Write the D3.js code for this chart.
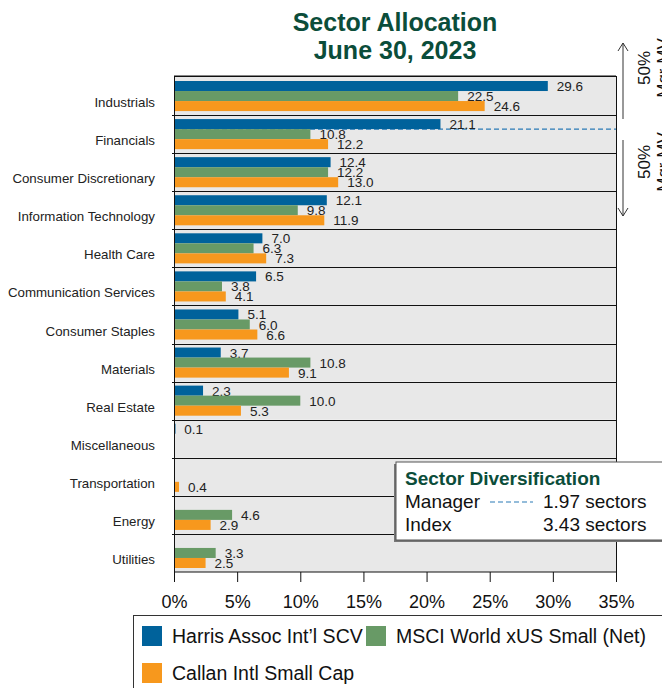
<!DOCTYPE html>
<html><head><meta charset="utf-8">
<script src="https://cdn.jsdelivr.net/npm/d3@7"></script>
<style>body{margin:0;background:#fff;}svg{display:block;font-family:"Liberation Sans",Arial,sans-serif;}</style>
</head><body>
<script>
const categories = ["Industrials","Financials","Consumer Discretionary","Information Technology","Health Care","Communication Services","Consumer Staples","Materials","Real Estate","Miscellaneous","Transportation","Energy","Utilities"];
const seriesNames = ["Harris Assoc Int\u2019l SCV","MSCI World xUS Small (Net)","Callan Intl Small Cap"];
const manager = [29.6,21.1,12.4,12.1,7.0,6.5,5.1,3.7,2.3,0.1,null,null,null];
const index = [22.5,10.8,12.2,9.8,6.3,3.8,6.0,10.8,10.0,null,null,4.6,3.3];
const peer = [24.6,12.2,13.0,11.9,7.3,4.1,6.6,9.1,5.3,null,0.4,2.9,2.5];
const seriesColors = ["#00629b","#689a66","#f7981d"];
const xTicks = [0,5,10,15,20,25,30,35];
const managerSectors = 1.97, indexSectors = 3.43;
const dividerValue = 0.37; // fraction of Financials row where 50% MV split is drawn

const W=662,H=688;
const svg=d3.select("body").append("svg").attr("width",W).attr("height",H);
const x=d3.scaleLinear().domain([0,35]).range([174,616]);
const y=d3.scaleBand().domain(categories).range([77,572]).paddingInner(0);
const bw=y.bandwidth();
const sub=d3.scaleBand().domain(d3.range(3)).range([bw*0.105,bw*0.895]);
const allSeries=[manager,index,peer];

// title
svg.append("text").attr("x",395).attr("y",31).attr("text-anchor","middle").attr("font-weight","bold").attr("font-size",25).attr("fill","#0b4d3a").text("Sector Allocation");
svg.append("text").attr("x",395).attr("y",59).attr("text-anchor","middle").attr("font-weight","bold").attr("font-size",25).attr("fill","#0b4d3a").text("June 30, 2023");

// row backgrounds
svg.append("g").selectAll("rect").data(categories).join("rect")
  .attr("x",x(0)).attr("y",d=>y(d)).attr("width",x(35)-x(0)).attr("height",bw).attr("fill","#e8e8e8");

// divider lines
svg.append("g").selectAll("line").data(categories.slice(1)).join("line")
  .attr("x1",x(0)-2).attr("x2",x(35)).attr("y1",d=>Math.round(y(d))+0.5).attr("y2",d=>Math.round(y(d))+0.5)
  .attr("stroke","#111").attr("stroke-width",1);

// dashed manager line
const dashY=y("Financials")+bw*dividerValue;
svg.append("line").attr("x1",x(0)).attr("x2",x(35)).attr("y1",dashY).attr("y2",dashY)
  .attr("stroke","#2a7ab5").attr("stroke-width",1.2).attr("stroke-dasharray","5,3");

// bars
allSeries.forEach((vals,si)=>{
  const data=categories.map((c,i)=>({c,v:vals[i]})).filter(d=>d.v!=null);
  const g=svg.append("g");
  g.selectAll("rect").data(data).join("rect")
    .attr("x",x(0)).attr("y",d=>y(d.c)+sub(si)).attr("width",d=>Math.max(x(d.v)-x(0),1.5)).attr("height",sub.bandwidth())
    .attr("fill",seriesColors[si]);
  g.selectAll("text").data(data).join("text")
    .attr("x",d=>x(d.v)+9).attr("y",d=>y(d.c)+sub(si)+sub.bandwidth()/2+5)
    .attr("font-size",13.5).attr("fill","#222").text(d=>d.v.toFixed(1));
});

// plot border
svg.append("rect").attr("x",x(0)+0.5).attr("y",y.range()[0]-0.5).attr("width",x(35)-x(0)).attr("height",y.range()[1]-y.range()[0]+0.5)
  .attr("fill","none").attr("stroke","#111").attr("stroke-width",1);
svg.append("line").attr("x1",x(0)).attr("x2",x(35)).attr("y1",y.range()[0]-1).attr("y2",y.range()[0]-1).attr("stroke","#111").attr("stroke-width",1.2);

// category labels
svg.append("g").selectAll("text").data(categories).join("text")
  .attr("x",155).attr("y",d=>y(d)+bw/2+11).attr("text-anchor","end").attr("font-size",13.3).attr("fill","#222").text(d=>d);

// x axis
const xa=svg.append("g").attr("transform",`translate(0,${y.range()[1]})`)
  .call(d3.axisBottom(x).tickValues(xTicks).tickSize(10).tickFormat(d=>d+"%"));
xa.select(".domain").remove();
xa.selectAll(".tick line").attr("stroke","#111");
xa.selectAll(".tick text").attr("font-size",18).attr("font-family","Liberation Sans, Arial, sans-serif").attr("fill","#111").attr("y",17).attr("dy","1.05em");

// 50% Mgr MV annotations
const ax=623;
function arrow(y1,y2){
  svg.append("line").attr("x1",ax).attr("x2",ax).attr("y1",y1).attr("y2",y2).attr("stroke","#333").attr("stroke-width",1);
  const d=y2<y1?1:-1;
  svg.append("path").attr("d",`M${ax-5},${y2+d*8}L${ax},${y2}L${ax+5},${y2+d*8}`).attr("fill","none").attr("stroke","#333").attr("stroke-width",1);
}
arrow(119,43);
arrow(140,216);
[[68],[162]].forEach(([cy])=>{
  const t=svg.append("text").attr("transform",`translate(650,${cy}) rotate(-90)`).attr("text-anchor","middle").attr("font-size",17).attr("fill","#111");
  t.append("tspan").attr("x",0).attr("dy",0).text("50%");
  t.append("tspan").attr("x",0).attr("dy",19).text("Mgr MV");
});

// diversification box
const bx=396,by=462;
svg.append("rect").attr("x",bx-2).attr("y",by+2).attr("width",290).attr("height",78).attr("fill","#777");
svg.append("rect").attr("x",bx).attr("y",by).attr("width",290).attr("height",78).attr("fill","#fff").attr("stroke","#555").attr("stroke-width",1);
svg.append("text").attr("x",405).attr("y",485).attr("font-weight","bold").attr("font-size",19).attr("fill","#0b4d3a").text("Sector Diversification");
svg.append("text").attr("x",405).attr("y",508).attr("font-size",19).attr("fill","#111").text("Manager");
svg.append("line").attr("x1",490).attr("x2",533).attr("y1",502).attr("y2",502).attr("stroke","#2a7ab5").attr("stroke-width",1.2).attr("stroke-dasharray","5,3");
svg.append("text").attr("x",543).attr("y",508).attr("font-size",19).attr("fill","#111").text(managerSectors.toFixed(2)+" sectors");
svg.append("text").attr("x",405).attr("y",531).attr("font-size",19).attr("fill","#111").text("Index");
svg.append("text").attr("x",543).attr("y",531).attr("font-size",19).attr("fill","#111").text(indexSectors.toFixed(2)+" sectors");

// legend
svg.append("rect").attr("x",133.5).attr("y",615.5).attr("width",560).attr("height",90).attr("fill","#fff").attr("stroke","#333");
const legPos=[[142,626],[366,626],[142,663]];
seriesNames.forEach((n,i)=>{
  const [lx,ly]=legPos[i];
  svg.append("rect").attr("x",lx).attr("y",ly).attr("width",20).attr("height",20).attr("fill",seriesColors[i]);
  svg.append("text").attr("x",lx+30).attr("y",ly+17).attr("font-size",19.5).attr("fill","#111").text(n);
});
</script>
</body></html>
